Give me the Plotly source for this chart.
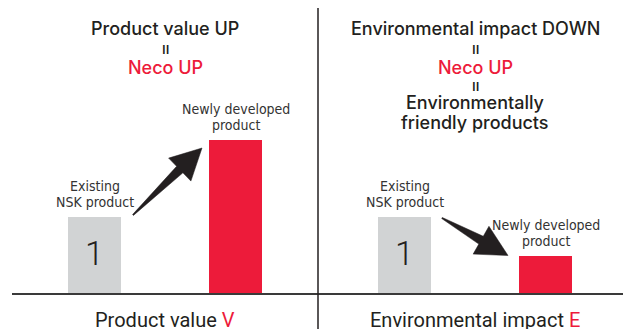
import numpy as np
import plotly.graph_objects as go

# ---- data -------------------------------------------------------------
categories = ["Existing<br>NSK product", "Newly developed<br>product"]
bar_pos = [0, 1]
product_value = [1, 2]          # relative product value V
environmental_impact = [1, 0.5]  # relative environmental impact E
existing_label = "1"

RED = "#ED1B3A"
GREY = "#D1D3D4"
INK = "#231F20"

W, H = 623, 329
SPLIT = 318            # x pixel of the vertical divider
BASE_Y = 294           # pixel row of the baseline
PX_X = 141             # pixels per category step
PX_Y = 77              # pixels per unit value
BAR_W = 53 / PX_X

y_range = [-(H - BASE_Y) / PX_Y, BASE_Y / PX_Y]
left_range = [-94.5 / PX_X, (SPLIT - 94.5) / PX_X]
right_range = [-86.5 / PX_X, (W - SPLIT - 86.5) / PX_X]

fig = go.Figure()

panels = [
    dict(xa="x", ya="y", vals=product_value, rng=left_range, x0px=0),
    dict(xa="x2", ya="y2", vals=environmental_impact, rng=right_range, x0px=SPLIT),
]

for p in panels:
    fig.add_trace(go.Bar(
        x=bar_pos, y=p["vals"], width=BAR_W,
        marker=dict(color=[GREY, RED], line=dict(width=0)),
        xaxis=p["xa"], yaxis=p["ya"], hoverinfo="skip", showlegend=False,
    ))


def to_px(p, x, y):
    return p["x0px"] + (x - p["rng"][0]) * PX_X, BASE_Y - y * PX_Y


def to_data(p, px, py):
    return (px - p["x0px"]) / PX_X + p["rng"][0], (BASE_Y - py) / PX_Y


def arrow(p, tail, tip, head_len=31, head_half=16, shaft_half=4.5):
    """Tapered arrow with a triangular head, built in pixel space."""
    t = np.array(to_px(p, *tail))
    h = np.array(to_px(p, *tip))
    d = h - t
    u = d / np.linalg.norm(d)
    n = np.array([-u[1], u[0]])
    base = h - u * head_len
    pts = [t + n * 0.6, base + n * shaft_half, base + n * head_half, h,
           base - n * head_half, base - n * shaft_half, t - n * 0.6, t + n * 0.6]
    xs, ys = zip(*[to_data(p, *pt) for pt in pts])
    fig.add_trace(go.Scatter(
        x=xs, y=ys, mode="lines", fill="toself", fillcolor=INK,
        line=dict(color=INK, width=0.5), xaxis=p["xa"], yaxis=p["ya"],
        hoverinfo="skip", showlegend=False,
    ))


# arrow from the existing bar to the new bar in each panel
for p in panels:
    v0, v1 = p["vals"]
    if v1 > v0:
        tail = (bar_pos[0] + BAR_W / 2 + 12 / PX_X, v0 + 2 / PX_Y)
        tip = (bar_pos[1] - BAR_W / 2 - 7 / PX_X, v1 - 8 / PX_Y)
    else:
        tail = (bar_pos[0] + BAR_W / 2 + 11 / PX_X, v0 - 1 / PX_Y)
        tip = (bar_pos[1] - BAR_W / 2 - 11 / PX_X, v1)
    arrow(p, tail, tip)

ann = []
LABEL_FONT = dict(family="DejaVu Sans Condensed, Roboto Condensed, Roboto",
                  size=14, color="#333333")

for p in panels:
    for xi, v, cat in zip(bar_pos, p["vals"], categories):
        lines = cat.split("<br>")
        for k, line in enumerate(lines):
            shift = 15 + 16 * (len(lines) - 1 - k)
            ann.append(dict(x=xi, y=v, xref=p["xa"], yref=p["ya"], text=line,
                            showarrow=False, yanchor="middle", yshift=shift,
                            font=LABEL_FONT))
    ann.append(dict(x=bar_pos[0], y=p["vals"][0] / 2, xref=p["xa"], yref=p["ya"],
                    text=existing_label, showarrow=False, yshift=3,
                    font=dict(family="Roboto", size=34, color=INK, weight=300)))


def ptext(p, ypx, text, size, color=INK, weight=500, family="Inter, Roboto"):
    ann.append(dict(x=0.5, xref=p["xa"], y=1 - ypx / H, yref="paper", text=text,
                    showarrow=False, yanchor="middle",
                    font=dict(family=family, size=size, color=color, weight=weight)))


L, R = panels
ptext(L, 28, "Product value UP", 18)
ptext(L, 49, "II", 13, weight=500, family="Roboto")
ptext(L, 67, "Neco UP", 18, color=RED)

ptext(R, 28, "Environmental impact DOWN", 18)
ptext(R, 49, "II", 13, weight=500, family="Roboto")
ptext(R, 67, "Neco UP", 18, color=RED)
ptext(R, 86, "II", 13, weight=500, family="Roboto")
ptext(R, 103, "Environmentally", 18)
ptext(R, 122, "friendly products", 18)

ptext(L, 320, f"Product value <span style='color:{RED}'>V</span>", 20,
      weight=400, family="Roboto")
ptext(R, 320, f"Environmental impact <span style='color:{RED}'>E</span>", 20,
      weight=400, family="Roboto")

shapes = [
    dict(type="line", xref="paper", yref="y", x0=12 / W, x1=SPLIT / W, y0=0, y1=0,
         line=dict(color="#3a3a3a", width=2)),
    dict(type="line", xref="paper", yref="y2", x0=SPLIT / W, x1=1, y0=0, y1=0,
         line=dict(color="#3a3a3a", width=2)),
    dict(type="line", xref="paper", yref="paper", x0=SPLIT / W, x1=SPLIT / W,
         y0=0, y1=1 - 8 / H, line=dict(color=INK, width=1.5)),
]

axis_off = dict(visible=False, fixedrange=True)
fig.update_layout(
    width=W, height=H, margin=dict(l=0, r=0, t=0, b=0),
    paper_bgcolor="white", plot_bgcolor="white",
    xaxis=dict(domain=[0, SPLIT / W], range=left_range, **axis_off),
    yaxis=dict(range=y_range, **axis_off),
    xaxis2=dict(domain=[SPLIT / W, 1], range=right_range, anchor="y2", **axis_off),
    yaxis2=dict(range=y_range, anchor="x2", **axis_off),
    annotations=ann, shapes=shapes, bargap=0,
)

fig.write_html("out.html", config=dict(displayModeBar=False))
